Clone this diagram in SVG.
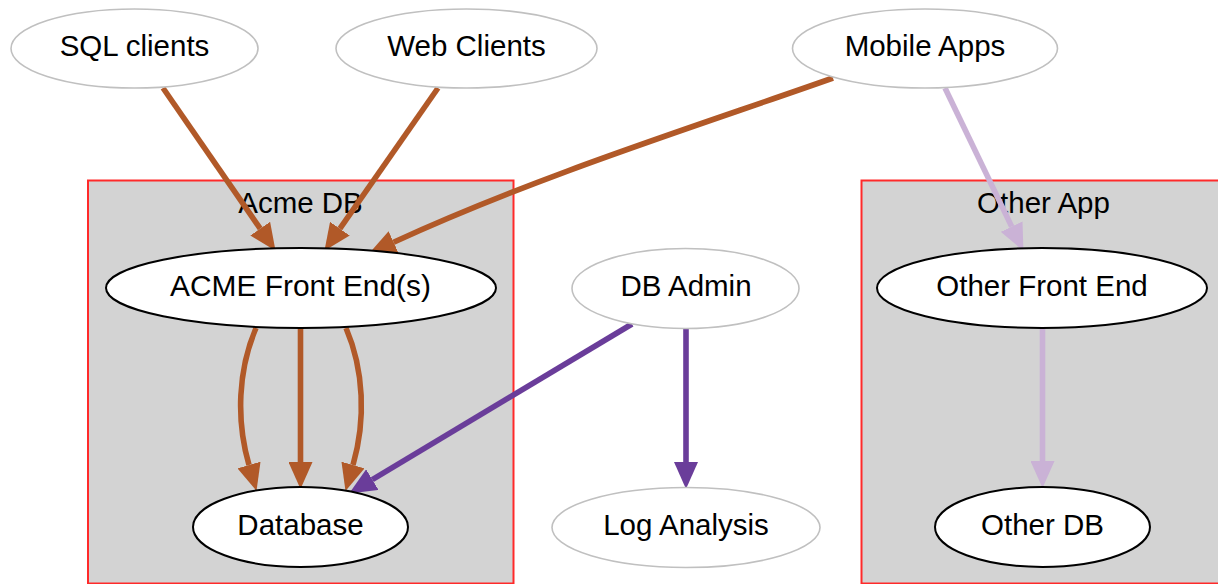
<svg xmlns="http://www.w3.org/2000/svg" width="1218" height="584" viewBox="0 0 1218 584">
<style>
text{font-family:"Liberation Sans",Arial,Helvetica,sans-serif;font-size:29.5px;fill:#000;text-anchor:middle}
.cl{fill:#d3d3d3;stroke:#ff2a2a;stroke-width:2}
.free{fill:#fff;stroke:#c0c0c0;stroke-width:1.6}
.in{fill:#fff;stroke:#000;stroke-width:2}
.e{fill:none;stroke-width:5.6}
.br{stroke:#b15928}
.pu{stroke:#6a3d9a}
.lp{stroke:#cab2d6}
</style>
<defs>
<marker id="mb" markerUnits="userSpaceOnUse" markerWidth="27" markerHeight="24" viewBox="0 0 27 24" refX="0" refY="12" orient="auto"><path d="M0,0 L27,12 L0,24 z" fill="#b15928"/></marker>
<marker id="mp" markerUnits="userSpaceOnUse" markerWidth="27" markerHeight="24" viewBox="0 0 27 24" refX="0" refY="12" orient="auto"><path d="M0,0 L27,12 L0,24 z" fill="#6a3d9a"/></marker>
<marker id="ml" markerUnits="userSpaceOnUse" markerWidth="27" markerHeight="24" viewBox="0 0 27 24" refX="0" refY="12" orient="auto"><path d="M0,0 L27,12 L0,24 z" fill="#cab2d6"/></marker>
</defs>
<rect width="1218" height="584" fill="#fff"/>
<g id="cluster_acme">
<rect class="cl" x="88" y="180.5" width="425.5" height="403"/>
<text x="300.5" y="213">Acme DB</text>
</g>
<g id="cluster_other">
<rect class="cl" x="861.5" y="180.5" width="362" height="403"/>
<text x="1043.5" y="213">Other App</text>
</g>
<g id="connectors">
<path class="e br" d="M163,88 L260.2,228.6" marker-end="url(#mb)"/>
<path class="e br" d="M438,88 L339.9,228.7" marker-end="url(#mb)"/>
<path class="e br" d="M833,78 C700,125 540,175 393.6,242.2" marker-end="url(#mb)"/>
<path class="e lp" d="M945,88 L1011.7,226.6" marker-end="url(#ml)"/>
<path class="e br" d="M256,328 C238,370 236,420 249,465" marker-end="url(#mb)"/>
<path class="e br" d="M300.5,328 L300.5,462" marker-end="url(#mb)"/>
<path class="e br" d="M346,328 C364,370 366,420 353,465" marker-end="url(#mb)"/>
<path class="e pu" d="M632,324 L372.3,479.6" marker-end="url(#mp)"/>
<path class="e pu" d="M686,329 L686,462" marker-end="url(#mp)"/>
<path class="e lp" d="M1042.5,328 L1042.5,461" marker-end="url(#ml)"/>
</g>
<g id="sql_clients">
<ellipse class="free" cx="134.5" cy="48.5" rx="123.5" ry="39.5"/>
<text x="134.5" y="56">SQL clients</text>
</g>
<g id="web_clients">
<ellipse class="free" cx="466.5" cy="48.5" rx="130.5" ry="39.5"/>
<text x="466.5" y="56">Web Clients</text>
</g>
<g id="mobile_apps">
<ellipse class="free" cx="925" cy="48.5" rx="132.5" ry="39.5"/>
<text x="925" y="56">Mobile Apps</text>
</g>
<g id="acme_front_end">
<ellipse class="in" cx="301" cy="288" rx="195" ry="40"/>
<text x="300.5" y="295.5" textLength="261" lengthAdjust="spacingAndGlyphs">ACME Front End(s)</text>
</g>
<g id="database">
<ellipse class="in" cx="300.5" cy="527" rx="107.5" ry="40"/>
<text x="300.5" y="535">Database</text>
</g>
<g id="db_admin">
<ellipse class="free" cx="685.5" cy="288.5" rx="113.5" ry="40"/>
<text x="686" y="296">DB Admin</text>
</g>
<g id="log_analysis">
<ellipse class="free" cx="686" cy="527.5" rx="134" ry="40"/>
<text x="686" y="535">Log Analysis</text>
</g>
<g id="other_front_end">
<ellipse class="in" cx="1042" cy="288" rx="165" ry="40"/>
<text x="1042" y="295.5">Other Front End</text>
</g>
<g id="other_db">
<ellipse class="in" cx="1042.5" cy="527" rx="107.5" ry="40"/>
<text x="1042.5" y="535">Other DB</text>
</g>
</svg>
